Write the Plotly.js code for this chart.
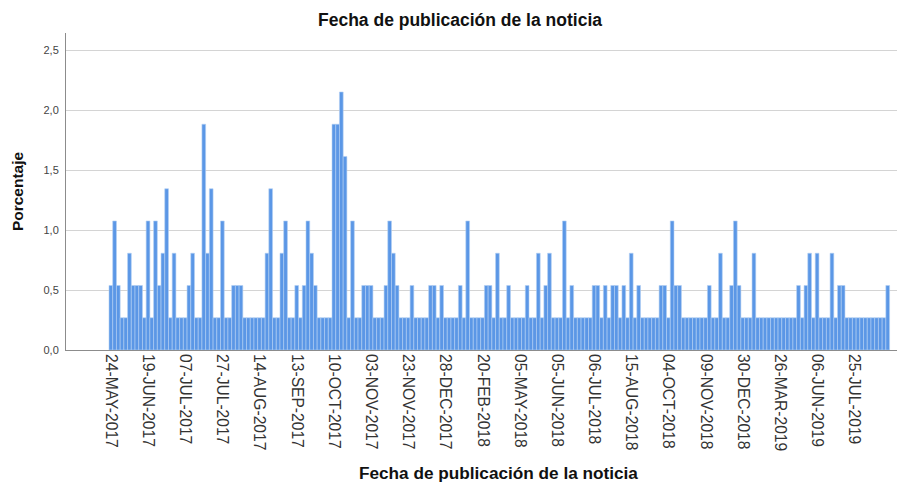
<!DOCTYPE html>
<html>
<head>
<meta charset="utf-8">
<script src="https://cdn.plot.ly/plotly-3.0.1.min.js"></script>
<style>html,body{margin:0;padding:0;background:#fff;}#chart{width:920px;height:484px;}</style>
</head>
<body>
<div id="chart"></div>
<script>
// Number of news items per publication date (one bar per date, total N = 372)
const counts = [
  2,4,2,1,1,3,2,2,2,1, 4,1,4,2,3,5,1,3,1,1,
  1,2,3,1,1,7,3,5,1,1, 4,1,1,2,2,2,1,1,1,1,
  1,1,3,5,1,1,3,4,1,1, 2,1,2,4,3,2,1,1,1,1,
  7,7,8,6,1,4,1,1,2,2, 2,1,1,1,2,4,3,2,1,1,
  1,2,1,1,1,1,2,2,1,2, 1,1,1,1,2,1,4,1,1,1,
  1,2,2,1,3,1,1,2,1,1, 1,1,2,1,1,3,1,2,3,1,
  1,1,4,1,2,1,1,1,1,1, 2,2,1,2,1,2,2,1,2,1,
  3,1,2,1,1,1,1,1,2,2, 1,4,2,2,1,1,1,1,1,1,
  1,2,1,1,3,1,1,2,4,2, 1,1,1,3,1,1,1,1,1,1,
  1,1,1,1,1,2,1,2,3,1, 3,1,1,1,3,1,2,2,1,1,
  1,1,1,1,1,1,1,1,1,2
];
const total = 372;
const categories = counts.map((_, i) => i);
const percentages = counts.map(c => c / total * 100);

const tickPositions = [0,10,20,30,40,50,60,70,80,90,100,110,120,130,140,150,160,170,180,190,200];
const tickLabels = [
  "24-MAY-2017","19-JUN-2017","07-JUL-2017","27-JUL-2017","14-AUG-2017",
  "13-SEP-2017","10-OCT-2017","03-NOV-2017","23-NOV-2017","28-DEC-2017",
  "20-FEB-2018","05-MAY-2018","05-JUN-2018","06-JUL-2018","15-AUG-2018",
  "04-OCT-2018","09-NOV-2018","30-DEC-2018","26-MAR-2019","06-JUN-2019",
  "25-JUL-2019"
];

const titleText = "Fecha de publicación de la noticia";
const xTitleText = "Fecha de publicación de la noticia";
const yTitleText = "Porcentaje";

const font = "Liberation Sans, Arial, sans-serif";

const trace = {
  type: "bar",
  x: categories,
  y: percentages,
  marker: { color: "#5b97e6", line: { color: "#b3d0f4", width: 0.6 } },
  hoverinfo: "skip"
};

const layout = {
  width: 920, height: 484,
  margin: { l: 66, r: 23, t: 33, b: 134 },
  paper_bgcolor: "#ffffff",
  plot_bgcolor: "#ffffff",
  bargap: 0,
  separators: ",.",
  showlegend: false,
  font: { family: font, color: "#222" },
  title: {
    text: "<b>" + titleText + "</b>",
    font: { family: font, size: 17.5, color: "#111" },
    x: 0.5, xanchor: "center", y: 0.958, yanchor: "middle"
  },
  annotations: [{
    text: "<b>" + xTitleText + "</b>",
    xref: "paper", yref: "paper",
    x: 0.5205, y: -0.389, xanchor: "center", yanchor: "middle",
    showarrow: false,
    font: { family: font, size: 17.2, color: "#111" }
  }],
  xaxis: {
    range: [-12.07, 211.5],
    tickmode: "array",
    tickvals: tickPositions,
    ticktext: tickLabels,
    tickangle: 90,
    tickfont: { family: font, size: 15.6, color: "#333" },
    showgrid: false,
    zeroline: false,
    showline: true, linecolor: "#8c8c8c", linewidth: 1,
    ticks: ""
  },
  yaxis: {
    range: [0, 2.642],
    tickvals: [0, 0.5, 1, 1.5, 2, 2.5],
    tickformat: ".1f",
    tickfont: { family: font, size: 11, color: "#444" },
    showgrid: true, gridcolor: "#d4d4d4", gridwidth: 1,
    zeroline: false,
    showline: true, linecolor: "#8c8c8c", linewidth: 1,
    ticks: "",
    ticklabelstandoff: 4,
    title: {
      text: "<b>" + yTitleText + "</b>",
      font: { family: font, size: 15.5, color: "#111" },
      standoff: 16
    }
  }
};

Plotly.newPlot("chart", [trace], layout, { displayModeBar: false, staticPlot: true });
</script>
</body>
</html>
